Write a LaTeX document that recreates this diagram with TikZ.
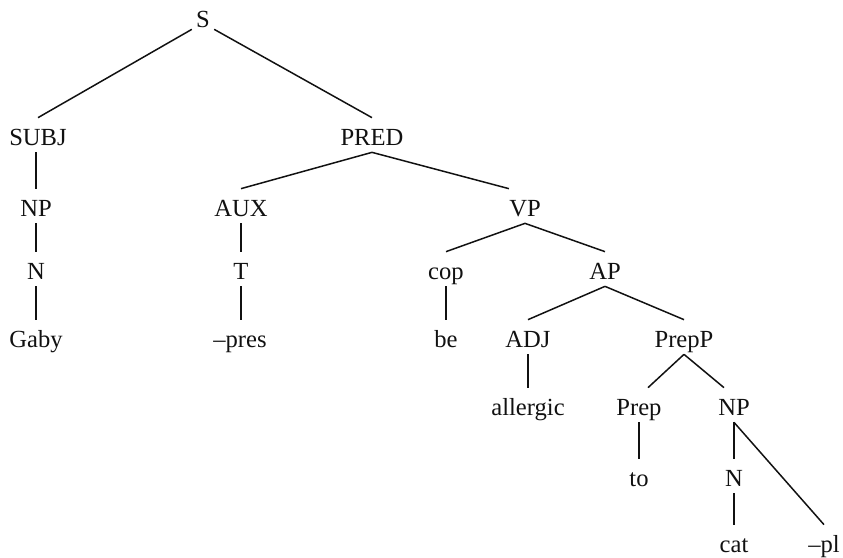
\documentclass[tikz,border=0pt]{standalone}
\usepackage{fontspec}
\setmainfont{Liberation Serif}
\usepackage{tikz}
\usetikzlibrary{positioning}
\definecolor{Ink}{HTML}{111111}
\tikzset{
  lab/.style={anchor=base,inner sep=0pt,text height=.54cm,text depth=.14cm,text=Ink,font=\fontsize{14}{16}\selectfont},
  br/.style={draw=Ink,line width=.85pt},
}
\begin{document}
\begin{tikzpicture}[x=.02cm,y=-.02cm]
        \useasboundingbox (0,0) rectangle (843,558);
        \node[lab,inner xsep=.08cm,text depth=.04cm] (s) at (203,27) {S};
        \node[lab] (subj) at (38,145) {SUBJ};
        \node[lab] (pred) at (372,145) {PRED};
        \node[lab] (np1) at (36,216) {NP};
        \node[lab] (n1) at (36,279) {N};
        \node[lab] (gaby) at (36,347) {Gaby};
        \node[lab] (aux) at (241,216) {AUX};
        \node[lab] (t) at (241,279) {T};
        \node[lab] (pres) at (240,347) {\textendash pres};
        \node[lab] (vp) at (525,216) {VP};
        \node[lab] (cop) at (446,279) {cop};
        \node[lab] (be) at (446,347) {be};
        \node[lab] (ap) at (605,279) {AP};
        \node[lab] (adj) at (528,347) {ADJ};
        \node[lab] (allergic) at (528,415) {allergic};
        \node[lab] (prepp) at (684,347) {PrepP};
        \node[lab] (prep) at (639,415) {Prep};
        \node[lab] (to) at (639,486) {to};
        \node[lab] (np2) at (734,415) {NP};
        \node[lab] (n2) at (734,486) {N};
        \node[lab] (catw) at (734,552) {cat};
        \node[lab] (pl) at (824,552) {\textendash pl};
        \draw[br] (s.south west) -- (subj.north);
        \draw[br] (s.south east) -- (pred.north);
        \draw[br] (np1.north |- subj.south) -- (np1.north);
        \draw[br] (np1.south) -- (n1.north);
        \draw[br] (n1.south) -- (gaby.north);
        \draw[br] (pred.south) -- (aux.north);
        \draw[br] (pred.south) -- (vp.north west);
        \draw[br] (aux.south) -- (t.north);
        \draw[br] (t.south) -- (pres.north -| t.south);
        \draw[br] (vp.south) -- (cop.north);
        \draw[br] (vp.south) -- (ap.north);
        \draw[br] (cop.south) -- (be.north);
        \draw[br] (ap.south) -- (adj.north);
        \draw[br] (ap.south) -- (prepp.north);
        \draw[br] (adj.south) -- (allergic.north);
        \draw[br] (prepp.south) -- ([xshift=.18cm]prep.north);
        \draw[br] (prepp.south) -- ([xshift=-.2cm]np2.north);
        \draw[br] (prep.south) -- (to.north);
        \draw[br] (np2.south) -- (n2.north);
        \draw[br] (np2.south) -- (pl.north);
        \draw[br] (n2.south) -- (catw.north);
      \end{tikzpicture}
\end{document}
